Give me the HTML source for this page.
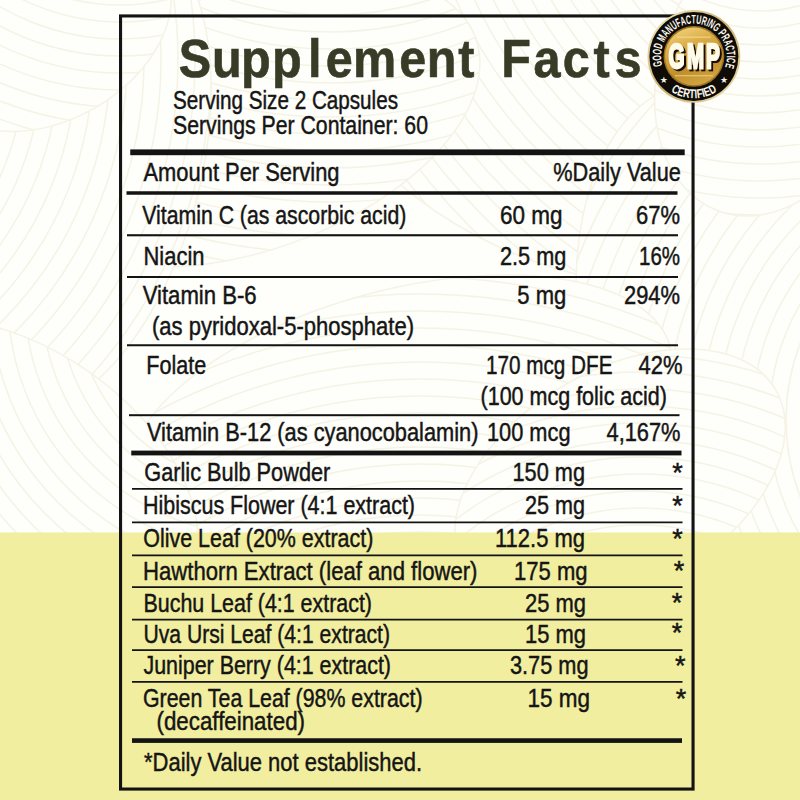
<!DOCTYPE html>
<html lang="en"><head><meta charset="utf-8"><title>Supplement Facts</title>
<style>
html,body{margin:0;padding:0;background:#fefefa;}
body{width:800px;height:800px;overflow:hidden;}
svg{display:block;font-family:"Liberation Sans", "DejaVu Sans", sans-serif;}
</style></head><body>
<svg width="800" height="800" viewBox="0 0 800 800">
<rect width="800" height="800" fill="#fefefa"/>
<g>
<clipPath id="lf0"><ellipse cx="560" cy="110" rx="260" ry="150" transform="rotate(25 560 110)"/></clipPath>
<ellipse cx="560" cy="110" rx="260" ry="150" transform="rotate(25 560 110)" fill="#fefefa" stroke="#f5f3e5" stroke-width="1.5"/>
<g clip-path="url(#lf0)" fill="none" stroke="#f5f3e5" stroke-width="1.5">
<circle cx="900" cy="-200" r="300"/>
<circle cx="900" cy="-200" r="317"/>
<circle cx="900" cy="-200" r="334"/>
<circle cx="900" cy="-200" r="351"/>
<circle cx="900" cy="-200" r="368"/>
<circle cx="900" cy="-200" r="385"/>
<circle cx="900" cy="-200" r="402"/>
<circle cx="900" cy="-200" r="419"/>
<circle cx="900" cy="-200" r="436"/>
<circle cx="900" cy="-200" r="453"/>
<circle cx="900" cy="-200" r="470"/>
<circle cx="900" cy="-200" r="487"/>
<circle cx="900" cy="-200" r="504"/>
<circle cx="900" cy="-200" r="521"/>
<circle cx="900" cy="-200" r="538"/>
<circle cx="900" cy="-200" r="555"/>
<circle cx="900" cy="-200" r="572"/>
<circle cx="900" cy="-200" r="589"/>
<circle cx="900" cy="-200" r="606"/>
<circle cx="900" cy="-200" r="623"/>
<circle cx="900" cy="-200" r="640"/>
<circle cx="900" cy="-200" r="657"/>
<circle cx="900" cy="-200" r="674"/>
<circle cx="900" cy="-200" r="691"/>
</g>
<clipPath id="lf1"><ellipse cx="250" cy="120" rx="240" ry="130" transform="rotate(-20 250 120)"/></clipPath>
<ellipse cx="250" cy="120" rx="240" ry="130" transform="rotate(-20 250 120)" fill="#fefefa" stroke="#f5f3e5" stroke-width="1.5"/>
<g clip-path="url(#lf1)" fill="none" stroke="#f5f3e5" stroke-width="1.5">
<circle cx="330" cy="-320" r="250"/>
<circle cx="330" cy="-320" r="267"/>
<circle cx="330" cy="-320" r="284"/>
<circle cx="330" cy="-320" r="301"/>
<circle cx="330" cy="-320" r="318"/>
<circle cx="330" cy="-320" r="335"/>
<circle cx="330" cy="-320" r="352"/>
<circle cx="330" cy="-320" r="369"/>
<circle cx="330" cy="-320" r="386"/>
<circle cx="330" cy="-320" r="403"/>
<circle cx="330" cy="-320" r="420"/>
<circle cx="330" cy="-320" r="437"/>
<circle cx="330" cy="-320" r="454"/>
<circle cx="330" cy="-320" r="471"/>
<circle cx="330" cy="-320" r="488"/>
<circle cx="330" cy="-320" r="505"/>
<circle cx="330" cy="-320" r="522"/>
<circle cx="330" cy="-320" r="539"/>
<circle cx="330" cy="-320" r="556"/>
<circle cx="330" cy="-320" r="573"/>
<circle cx="330" cy="-320" r="590"/>
</g>
<clipPath id="lf2"><ellipse cx="70" cy="170" rx="130" ry="250" transform="rotate(15 70 170)"/></clipPath>
<ellipse cx="70" cy="170" rx="130" ry="250" transform="rotate(15 70 170)" fill="#fefefa" stroke="#f5f3e5" stroke-width="1.5"/>
<g clip-path="url(#lf2)" fill="none" stroke="#f5f3e5" stroke-width="1.5">
<circle cx="-260" cy="60" r="200"/>
<circle cx="-260" cy="60" r="217"/>
<circle cx="-260" cy="60" r="234"/>
<circle cx="-260" cy="60" r="251"/>
<circle cx="-260" cy="60" r="268"/>
<circle cx="-260" cy="60" r="285"/>
<circle cx="-260" cy="60" r="302"/>
<circle cx="-260" cy="60" r="319"/>
<circle cx="-260" cy="60" r="336"/>
<circle cx="-260" cy="60" r="353"/>
<circle cx="-260" cy="60" r="370"/>
<circle cx="-260" cy="60" r="387"/>
<circle cx="-260" cy="60" r="404"/>
<circle cx="-260" cy="60" r="421"/>
<circle cx="-260" cy="60" r="438"/>
<circle cx="-260" cy="60" r="455"/>
<circle cx="-260" cy="60" r="472"/>
<circle cx="-260" cy="60" r="489"/>
<circle cx="-260" cy="60" r="506"/>
<circle cx="-260" cy="60" r="523"/>
<circle cx="-260" cy="60" r="540"/>
<circle cx="-260" cy="60" r="557"/>
</g>
<clipPath id="lf3"><ellipse cx="730" cy="330" rx="150" ry="250" transform="rotate(-10 730 330)"/></clipPath>
<ellipse cx="730" cy="330" rx="150" ry="250" transform="rotate(-10 730 330)" fill="#fefefa" stroke="#f5f3e5" stroke-width="1.5"/>
<g clip-path="url(#lf3)" fill="none" stroke="#f5f3e5" stroke-width="1.5">
<circle cx="1000" cy="420" r="180"/>
<circle cx="1000" cy="420" r="197"/>
<circle cx="1000" cy="420" r="214"/>
<circle cx="1000" cy="420" r="231"/>
<circle cx="1000" cy="420" r="248"/>
<circle cx="1000" cy="420" r="265"/>
<circle cx="1000" cy="420" r="282"/>
<circle cx="1000" cy="420" r="299"/>
<circle cx="1000" cy="420" r="316"/>
<circle cx="1000" cy="420" r="333"/>
<circle cx="1000" cy="420" r="350"/>
<circle cx="1000" cy="420" r="367"/>
<circle cx="1000" cy="420" r="384"/>
<circle cx="1000" cy="420" r="401"/>
<circle cx="1000" cy="420" r="418"/>
<circle cx="1000" cy="420" r="435"/>
<circle cx="1000" cy="420" r="452"/>
<circle cx="1000" cy="420" r="469"/>
<circle cx="1000" cy="420" r="486"/>
<circle cx="1000" cy="420" r="503"/>
<circle cx="1000" cy="420" r="520"/>
</g>
<clipPath id="lf4"><ellipse cx="400" cy="420" rx="280" ry="130" transform="rotate(-15 400 420)"/></clipPath>
<ellipse cx="400" cy="420" rx="280" ry="130" transform="rotate(-15 400 420)" fill="#fefefa" stroke="#f5f3e5" stroke-width="1.5"/>
<g clip-path="url(#lf4)" fill="none" stroke="#f5f3e5" stroke-width="1.5">
<circle cx="420" cy="900" r="300"/>
<circle cx="420" cy="900" r="317"/>
<circle cx="420" cy="900" r="334"/>
<circle cx="420" cy="900" r="351"/>
<circle cx="420" cy="900" r="368"/>
<circle cx="420" cy="900" r="385"/>
<circle cx="420" cy="900" r="402"/>
<circle cx="420" cy="900" r="419"/>
<circle cx="420" cy="900" r="436"/>
<circle cx="420" cy="900" r="453"/>
<circle cx="420" cy="900" r="470"/>
<circle cx="420" cy="900" r="487"/>
<circle cx="420" cy="900" r="504"/>
<circle cx="420" cy="900" r="521"/>
<circle cx="420" cy="900" r="538"/>
<circle cx="420" cy="900" r="555"/>
<circle cx="420" cy="900" r="572"/>
<circle cx="420" cy="900" r="589"/>
<circle cx="420" cy="900" r="606"/>
<circle cx="420" cy="900" r="623"/>
<circle cx="420" cy="900" r="640"/>
<circle cx="420" cy="900" r="657"/>
</g>
<clipPath id="lf5"><ellipse cx="20" cy="470" rx="200" ry="120" transform="rotate(35 20 470)"/></clipPath>
<ellipse cx="20" cy="470" rx="200" ry="120" transform="rotate(35 20 470)" fill="#fefefa" stroke="#f5f3e5" stroke-width="1.5"/>
<g clip-path="url(#lf5)" fill="none" stroke="#f5f3e5" stroke-width="1.5">
<circle cx="260" cy="300" r="150"/>
<circle cx="260" cy="300" r="167"/>
<circle cx="260" cy="300" r="184"/>
<circle cx="260" cy="300" r="201"/>
<circle cx="260" cy="300" r="218"/>
<circle cx="260" cy="300" r="235"/>
<circle cx="260" cy="300" r="252"/>
<circle cx="260" cy="300" r="269"/>
<circle cx="260" cy="300" r="286"/>
<circle cx="260" cy="300" r="303"/>
<circle cx="260" cy="300" r="320"/>
<circle cx="260" cy="300" r="337"/>
<circle cx="260" cy="300" r="354"/>
<circle cx="260" cy="300" r="371"/>
<circle cx="260" cy="300" r="388"/>
<circle cx="260" cy="300" r="405"/>
<circle cx="260" cy="300" r="422"/>
<circle cx="260" cy="300" r="439"/>
<circle cx="260" cy="300" r="456"/>
</g>
<clipPath id="lf6"><ellipse cx="620" cy="480" rx="180" ry="110" transform="rotate(-30 620 480)"/></clipPath>
<ellipse cx="620" cy="480" rx="180" ry="110" transform="rotate(-30 620 480)" fill="#fefefa" stroke="#f5f3e5" stroke-width="1.5"/>
<g clip-path="url(#lf6)" fill="none" stroke="#f5f3e5" stroke-width="1.5">
<circle cx="640" cy="760" r="150"/>
<circle cx="640" cy="760" r="167"/>
<circle cx="640" cy="760" r="184"/>
<circle cx="640" cy="760" r="201"/>
<circle cx="640" cy="760" r="218"/>
<circle cx="640" cy="760" r="235"/>
<circle cx="640" cy="760" r="252"/>
<circle cx="640" cy="760" r="269"/>
<circle cx="640" cy="760" r="286"/>
<circle cx="640" cy="760" r="303"/>
<circle cx="640" cy="760" r="320"/>
<circle cx="640" cy="760" r="337"/>
<circle cx="640" cy="760" r="354"/>
<circle cx="640" cy="760" r="371"/>
<circle cx="640" cy="760" r="388"/>
<circle cx="640" cy="760" r="405"/>
<circle cx="640" cy="760" r="422"/>
<circle cx="640" cy="760" r="439"/>
<circle cx="640" cy="760" r="456"/>
</g>
<clipPath id="lf7"><ellipse cx="50" cy="30" rx="130" ry="90" transform="rotate(-30 50 30)"/></clipPath>
<ellipse cx="50" cy="30" rx="130" ry="90" transform="rotate(-30 50 30)" fill="#fefefa" stroke="#f5f3e5" stroke-width="1.5"/>
<g clip-path="url(#lf7)" fill="none" stroke="#f5f3e5" stroke-width="1.5">
<circle cx="120" cy="-200" r="120"/>
<circle cx="120" cy="-200" r="137"/>
<circle cx="120" cy="-200" r="154"/>
<circle cx="120" cy="-200" r="171"/>
<circle cx="120" cy="-200" r="188"/>
<circle cx="120" cy="-200" r="205"/>
<circle cx="120" cy="-200" r="222"/>
<circle cx="120" cy="-200" r="239"/>
<circle cx="120" cy="-200" r="256"/>
<circle cx="120" cy="-200" r="273"/>
<circle cx="120" cy="-200" r="290"/>
<circle cx="120" cy="-200" r="307"/>
<circle cx="120" cy="-200" r="324"/>
<circle cx="120" cy="-200" r="341"/>
<circle cx="120" cy="-200" r="358"/>
<circle cx="120" cy="-200" r="375"/>
<circle cx="120" cy="-200" r="392"/>
<circle cx="120" cy="-200" r="409"/>
</g>
<clipPath id="lf8"><ellipse cx="770" cy="70" rx="110" ry="150" transform="rotate(20 770 70)"/></clipPath>
<ellipse cx="770" cy="70" rx="110" ry="150" transform="rotate(20 770 70)" fill="#fefefa" stroke="#f5f3e5" stroke-width="1.5"/>
<g clip-path="url(#lf8)" fill="none" stroke="#f5f3e5" stroke-width="1.5">
<circle cx="760" cy="-140" r="100"/>
<circle cx="760" cy="-140" r="117"/>
<circle cx="760" cy="-140" r="134"/>
<circle cx="760" cy="-140" r="151"/>
<circle cx="760" cy="-140" r="168"/>
<circle cx="760" cy="-140" r="185"/>
<circle cx="760" cy="-140" r="202"/>
<circle cx="760" cy="-140" r="219"/>
<circle cx="760" cy="-140" r="236"/>
<circle cx="760" cy="-140" r="253"/>
<circle cx="760" cy="-140" r="270"/>
<circle cx="760" cy="-140" r="287"/>
<circle cx="760" cy="-140" r="304"/>
<circle cx="760" cy="-140" r="321"/>
<circle cx="760" cy="-140" r="338"/>
<circle cx="760" cy="-140" r="355"/>
</g>
</g>
<rect x="0" y="532.5" width="800" height="267.5" fill="#f1ee9f"/>
<rect x="120.55" y="15.95" width="572.5" height="773.1" fill="none" stroke="#131313" stroke-width="3.1"/>
<rect x="130.25" y="149.4" width="554.45" height="5.8" fill="#131313"/>
<rect x="126.5" y="191.25" width="551.0" height="3.5" fill="#131313"/>
<rect x="127" y="234.2" width="551" height="2.1" fill="#131313"/>
<rect x="127" y="276" width="551" height="2" fill="#131313"/>
<rect x="127" y="344.25" width="551" height="2.0" fill="#131313"/>
<rect x="129" y="414.2" width="550.5" height="2.0" fill="#131313"/>
<rect x="131.25" y="450.6" width="550.25" height="4.8" fill="#131313"/>
<rect x="132" y="488" width="550.5" height="1.75" fill="#131313"/>
<rect x="132" y="521.5" width="550.5" height="1.75" fill="#131313"/>
<rect x="132" y="554.5" width="550.5" height="1.75" fill="#131313"/>
<rect x="132" y="586.25" width="550.5" height="1.75" fill="#131313"/>
<rect x="132" y="618.75" width="550.5" height="1.75" fill="#131313"/>
<rect x="132" y="649.25" width="550.5" height="1.75" fill="#131313"/>
<rect x="132" y="681" width="550.5" height="1.75" fill="#131313"/>
<rect x="132" y="738.25" width="550" height="4.65" fill="#131313"/>
<text transform="scale(0.917,1)" x="195.03 231.18 262.92 296.56 335.99 355.34 384.90 435.50 465.32 499.64 523.45 546.50 581.89 613.79 647.13 670.17" y="76.9" font-size="53" font-weight="bold" fill="#383c27" stroke="#383c27" stroke-width="0.6">Supplement Facts</text>
<text x="173" y="109" font-size="25" text-anchor="start" font-weight="normal" fill="#151515" stroke="#151515" stroke-width="0.45" textLength="225" lengthAdjust="spacingAndGlyphs">Serving Size 2 Capsules</text>
<text x="173" y="134" font-size="25" text-anchor="start" font-weight="normal" fill="#151515" stroke="#151515" stroke-width="0.45" textLength="255" lengthAdjust="spacingAndGlyphs">Servings Per Container: 60</text>
<text x="143.5" y="181" font-size="25" text-anchor="start" font-weight="normal" fill="#151515" stroke="#151515" stroke-width="0.45" textLength="196" lengthAdjust="spacingAndGlyphs">Amount Per Serving</text>
<text x="680.8" y="181" font-size="25" text-anchor="end" font-weight="normal" fill="#151515" stroke="#151515" stroke-width="0.45" textLength="127.5" lengthAdjust="spacingAndGlyphs">%Daily Value</text>
<text x="142.3" y="223.75" font-size="25" text-anchor="start" font-weight="normal" fill="#151515" stroke="#151515" stroke-width="0.45" textLength="264" lengthAdjust="spacingAndGlyphs">Vitamin C (as ascorbic acid)</text>
<text x="562.5" y="223.75" font-size="25" text-anchor="end" font-weight="normal" fill="#151515" stroke="#151515" stroke-width="0.45" textLength="62.5" lengthAdjust="spacingAndGlyphs">60 mg</text>
<text x="680" y="223.75" font-size="25" text-anchor="end" font-weight="normal" fill="#151515" stroke="#151515" stroke-width="0.45" textLength="44" lengthAdjust="spacingAndGlyphs">67%</text>
<text x="143.5" y="265" font-size="25" text-anchor="start" font-weight="normal" fill="#151515" stroke="#151515" stroke-width="0.45" textLength="61" lengthAdjust="spacingAndGlyphs">Niacin</text>
<text x="566.3" y="265" font-size="25" text-anchor="end" font-weight="normal" fill="#151515" stroke="#151515" stroke-width="0.45" textLength="66.3" lengthAdjust="spacingAndGlyphs">2.5 mg</text>
<text x="680" y="265" font-size="25" text-anchor="end" font-weight="normal" fill="#151515" stroke="#151515" stroke-width="0.45" textLength="41" lengthAdjust="spacingAndGlyphs">16%</text>
<text x="142.7" y="303.75" font-size="25" text-anchor="start" font-weight="normal" fill="#151515" stroke="#151515" stroke-width="0.45" textLength="114" lengthAdjust="spacingAndGlyphs">Vitamin B-6</text>
<text x="566.3" y="303.75" font-size="25" text-anchor="end" font-weight="normal" fill="#151515" stroke="#151515" stroke-width="0.45" textLength="49" lengthAdjust="spacingAndGlyphs">5 mg</text>
<text x="680" y="303.75" font-size="25" text-anchor="end" font-weight="normal" fill="#151515" stroke="#151515" stroke-width="0.45" textLength="56" lengthAdjust="spacingAndGlyphs">294%</text>
<text x="146.3" y="373.5" font-size="25" text-anchor="start" font-weight="normal" fill="#151515" stroke="#151515" stroke-width="0.45" textLength="60" lengthAdjust="spacingAndGlyphs">Folate</text>
<text x="612.5" y="373.5" font-size="25" text-anchor="end" font-weight="normal" fill="#151515" stroke="#151515" stroke-width="0.45" textLength="126.5" lengthAdjust="spacingAndGlyphs">170 mcg DFE</text>
<text x="682.5" y="373.5" font-size="25" text-anchor="end" font-weight="normal" fill="#151515" stroke="#151515" stroke-width="0.45" textLength="44" lengthAdjust="spacingAndGlyphs">42%</text>
<text x="146.9" y="440.5" font-size="25" text-anchor="start" font-weight="normal" fill="#151515" stroke="#151515" stroke-width="0.45" textLength="331.5" lengthAdjust="spacingAndGlyphs">Vitamin B-12 (as cyanocobalamin)</text>
<text x="570.5" y="440.5" font-size="25" text-anchor="end" font-weight="normal" fill="#151515" stroke="#151515" stroke-width="0.45" textLength="83.5" lengthAdjust="spacingAndGlyphs">100 mcg</text>
<text x="680.5" y="440.5" font-size="25" text-anchor="end" font-weight="normal" fill="#151515" stroke="#151515" stroke-width="0.45" textLength="74" lengthAdjust="spacingAndGlyphs">4,167%</text>
<text x="152" y="335" font-size="25" text-anchor="start" font-weight="normal" fill="#151515" stroke="#151515" stroke-width="0.45" textLength="262" lengthAdjust="spacingAndGlyphs">(as pyridoxal-5-phosphate)</text>
<text x="667" y="405" font-size="25" text-anchor="end" font-weight="normal" fill="#151515" stroke="#151515" stroke-width="0.45" textLength="186.5" lengthAdjust="spacingAndGlyphs">(100 mcg folic acid)</text>
<text x="144.3" y="481.2" font-size="25" text-anchor="start" font-weight="normal" fill="#151515" stroke="#151515" stroke-width="0.45" textLength="186" lengthAdjust="spacingAndGlyphs">Garlic Bulb Powder</text>
<text x="585" y="481.2" font-size="25" text-anchor="end" font-weight="normal" fill="#151515" stroke="#151515" stroke-width="0.45" textLength="72.5" lengthAdjust="spacingAndGlyphs">150 mg</text>
<text x="677.4" y="481.98" font-size="27" text-anchor="middle" font-weight="normal" fill="#151515" stroke="#151515" stroke-width="0.45">*</text>
<text x="143" y="514.2" font-size="25" text-anchor="start" font-weight="normal" fill="#151515" stroke="#151515" stroke-width="0.45" textLength="272" lengthAdjust="spacingAndGlyphs">Hibiscus Flower (4:1 extract)</text>
<text x="585" y="514.2" font-size="25" text-anchor="end" font-weight="normal" fill="#151515" stroke="#151515" stroke-width="0.45" textLength="60" lengthAdjust="spacingAndGlyphs">25 mg</text>
<text x="677.5" y="515.18" font-size="27" text-anchor="middle" font-weight="normal" fill="#151515" stroke="#151515" stroke-width="0.45">*</text>
<text x="143.3" y="547.3" font-size="25" text-anchor="start" font-weight="normal" fill="#151515" stroke="#151515" stroke-width="0.45" textLength="230" lengthAdjust="spacingAndGlyphs">Olive Leaf (20% extract)</text>
<text x="585" y="547.3" font-size="25" text-anchor="end" font-weight="normal" fill="#151515" stroke="#151515" stroke-width="0.45" textLength="90" lengthAdjust="spacingAndGlyphs">112.5 mg</text>
<text x="677.5" y="547.93" font-size="27" text-anchor="middle" font-weight="normal" fill="#151515" stroke="#151515" stroke-width="0.45">*</text>
<text x="143" y="580" font-size="25" text-anchor="start" font-weight="normal" fill="#151515" stroke="#151515" stroke-width="0.45" textLength="334.5" lengthAdjust="spacingAndGlyphs">Hawthorn Extract (leaf and flower)</text>
<text x="587.5" y="580" font-size="25" text-anchor="end" font-weight="normal" fill="#151515" stroke="#151515" stroke-width="0.45" textLength="73.5" lengthAdjust="spacingAndGlyphs">175 mg</text>
<text x="679" y="580.18" font-size="27" text-anchor="middle" font-weight="normal" fill="#151515" stroke="#151515" stroke-width="0.45">*</text>
<text x="143.5" y="612.2" font-size="25" text-anchor="start" font-weight="normal" fill="#151515" stroke="#151515" stroke-width="0.45" textLength="228.5" lengthAdjust="spacingAndGlyphs">Buchu Leaf (4:1 extract)</text>
<text x="586" y="612.2" font-size="25" text-anchor="end" font-weight="normal" fill="#151515" stroke="#151515" stroke-width="0.45" textLength="61" lengthAdjust="spacingAndGlyphs">25 mg</text>
<text x="677" y="612.18" font-size="27" text-anchor="middle" font-weight="normal" fill="#151515" stroke="#151515" stroke-width="0.45">*</text>
<text x="143.5" y="642.5" font-size="25" text-anchor="start" font-weight="normal" fill="#151515" stroke="#151515" stroke-width="0.45" textLength="246.5" lengthAdjust="spacingAndGlyphs">Uva Ursi Leaf (4:1 extract)</text>
<text x="586" y="642.5" font-size="25" text-anchor="end" font-weight="normal" fill="#151515" stroke="#151515" stroke-width="0.45" textLength="61" lengthAdjust="spacingAndGlyphs">15 mg</text>
<text x="677" y="642.18" font-size="27" text-anchor="middle" font-weight="normal" fill="#151515" stroke="#151515" stroke-width="0.45">*</text>
<text x="143.5" y="674.3" font-size="25" text-anchor="start" font-weight="normal" fill="#151515" stroke="#151515" stroke-width="0.45" textLength="247.5" lengthAdjust="spacingAndGlyphs">Juniper Berry (4:1 extract)</text>
<text x="588.5" y="674.3" font-size="25" text-anchor="end" font-weight="normal" fill="#151515" stroke="#151515" stroke-width="0.45" textLength="78.5" lengthAdjust="spacingAndGlyphs">3.75 mg</text>
<text x="680.25" y="675.18" font-size="27" text-anchor="middle" font-weight="normal" fill="#151515" stroke="#151515" stroke-width="0.45">*</text>
<text x="143" y="707.2" font-size="25" text-anchor="start" font-weight="normal" fill="#151515" stroke="#151515" stroke-width="0.45" textLength="279.5" lengthAdjust="spacingAndGlyphs">Green Tea Leaf (98% extract)</text>
<text x="590" y="707.2" font-size="25" text-anchor="end" font-weight="normal" fill="#151515" stroke="#151515" stroke-width="0.45" textLength="62.5" lengthAdjust="spacingAndGlyphs">15 mg</text>
<text x="681" y="707.93" font-size="27" text-anchor="middle" font-weight="normal" fill="#151515" stroke="#151515" stroke-width="0.45">*</text>
<text x="156.5" y="730.4" font-size="25" text-anchor="start" font-weight="normal" fill="#151515" stroke="#151515" stroke-width="0.45" textLength="148.5" lengthAdjust="spacingAndGlyphs">(decaffeinated)</text>
<text x="144" y="770.6" font-size="25" text-anchor="start" font-weight="normal" fill="#151515" stroke="#151515" stroke-width="0.45" textLength="278" lengthAdjust="spacingAndGlyphs">*Daily Value not established.</text>
<defs>
<linearGradient id="gold" x1="0.2" y1="0" x2="0.6" y2="1"><stop offset="0" stop-color="#f3d27a"/><stop offset="0.35" stop-color="#d9aa45"/><stop offset="0.7" stop-color="#c08f2c"/><stop offset="1" stop-color="#d2a544"/></linearGradient>
<linearGradient id="rim" x1="0" y1="0" x2="1" y2="1"><stop offset="0" stop-color="#f6ecc8"/><stop offset="0.5" stop-color="#c9ae6a"/><stop offset="1" stop-color="#efe2b4"/></linearGradient>
<path id="arcTop" d="M662.35 65.74 A32.9 32.9 0 1 1 725.10 66.84"/>
<path id="arcBot" d="M670.77 91.34 A41.9 41.9 0 0 0 717.03 91.34"/>
</defs>
<circle cx="693.9" cy="56.4" r="46.4" fill="url(#rim)"/>
<circle cx="693.9" cy="56.4" r="44.5" fill="#0f0c08"/>
<circle cx="693.9" cy="56.4" r="30.4" fill="#9c741f"/>
<circle cx="693.9" cy="56.4" r="28.9" fill="url(#gold)"/>
<rect x="676.9" y="36.6" width="34" height="1.1" fill="#f4dc8e" opacity="0.9"/>
<rect x="674.9" y="75.2" width="38" height="1.1" fill="#ecd07a" opacity="0.9"/>
<text font-size="12.4" font-weight="bold" fill="#fbf8ee"><textPath href="#arcTop" textLength="123.5" lengthAdjust="spacingAndGlyphs">GOOD MANUFACTURING PRACTICE</textPath></text>
<text font-size="12.6" font-weight="bold" fill="#fbf8ee"><textPath href="#arcBot" textLength="49.0" lengthAdjust="spacingAndGlyphs">CERTIFIED</textPath></text>
<text x="663.80" y="83.19" font-size="9" text-anchor="middle" fill="#f5f1e4" font-family="'DejaVu Sans', sans-serif">★</text>
<text x="724.00" y="83.19" font-size="9" text-anchor="middle" fill="#f5f1e4" font-family="'DejaVu Sans', sans-serif">★</text>
<filter id="gsh" x="-10%" y="-10%" width="125%" height="125%"><feMorphology in="SourceAlpha" operator="dilate" radius="0.25 0.15" result="fat"/><feOffset in="fat" dx="3.17" dy="1.8" result="off"/><feFlood flood-color="#1a1006"/><feComposite in2="off" operator="in" result="sh"/><feMerge><feMergeNode in="sh"/><feMergeNode in="SourceGraphic"/></feMerge></filter>
<text transform="translate(668.4,68.1) scale(0.6,1)" x="0" y="0" font-size="34.5" font-weight="bold" fill="#fffbe9" stroke="#fffbe9" stroke-width="1.9" vector-effect="non-scaling-stroke" stroke-linejoin="miter" letter-spacing="3.6" filter="url(#gsh)">GMP</text>
</svg>
</body></html>
